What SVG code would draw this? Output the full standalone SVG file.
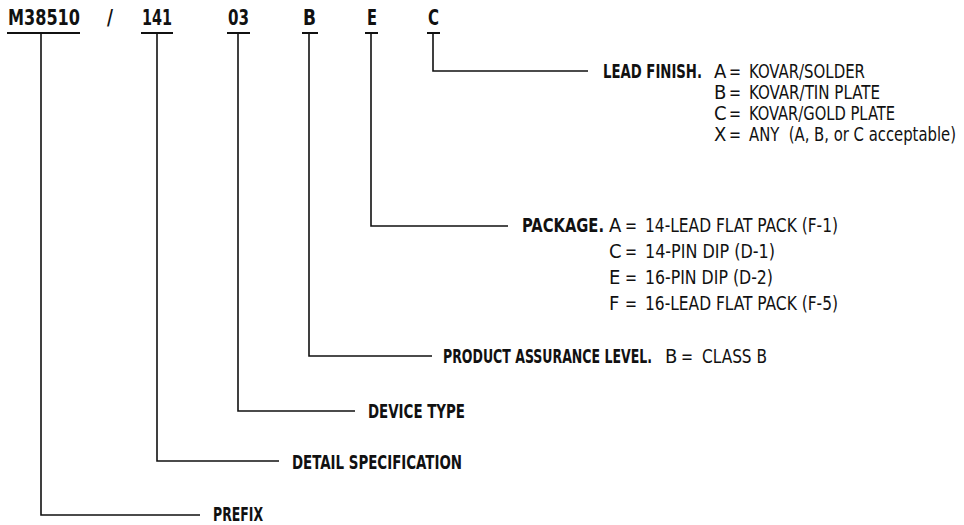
<svg xmlns="http://www.w3.org/2000/svg" width="964" height="525" viewBox="0 0 964 525">
<style>
.hd{font-family:"Liberation Sans Narrow","DejaVu Sans Condensed","Liberation Sans",sans-serif;font-weight:bold;font-size:22px;fill:#111}
.lb{font-family:"Liberation Sans Narrow","DejaVu Sans Condensed","Liberation Sans",sans-serif;font-weight:bold;font-size:20px;fill:#111}
.tx{font-family:"Liberation Sans Narrow","DejaVu Sans Condensed","Liberation Sans",sans-serif;font-size:20px;fill:#111}
.ln{fill:none;stroke:#111;stroke-width:1.6}
.ul{stroke:#111;stroke-width:2}
</style>
<rect width="964" height="525" fill="#fff"/>
<g id="header">
<text class="hd" x="8" y="25" textLength="72" lengthAdjust="spacingAndGlyphs">M38510</text>
<text class="hd" x="107" y="25" textLength="6" lengthAdjust="spacingAndGlyphs">/</text>
<text class="hd" x="142" y="25" textLength="30" lengthAdjust="spacingAndGlyphs">141</text>
<text class="hd" x="228" y="25" textLength="21" lengthAdjust="spacingAndGlyphs">03</text>
<text class="hd" x="303" y="25" textLength="13" lengthAdjust="spacingAndGlyphs">B</text>
<text class="hd" x="367" y="25" textLength="10" lengthAdjust="spacingAndGlyphs">E</text>
<text class="hd" x="428" y="25" textLength="11" lengthAdjust="spacingAndGlyphs">C</text>
<line class="ul" x1="7" y1="33" x2="80" y2="33"/>
<line class="ul" x1="141" y1="33" x2="173" y2="33"/>
<line class="ul" x1="227" y1="33" x2="250" y2="33"/>
<line class="ul" x1="302" y1="33" x2="318" y2="33"/>
<line class="ul" x1="365" y1="33" x2="378" y2="33"/>
<line class="ul" x1="427" y1="33" x2="440" y2="33"/>
</g>
<g id="connectors">
<polyline class="ln" points="433,33 433,71 588,71"/>
<polyline class="ln" points="371,33 371,226 508,226"/>
<polyline class="ln" points="309,33 309,356 432,356"/>
<polyline class="ln" points="238,33 238,411 355,411"/>
<polyline class="ln" points="157,33 157,461 279,461"/>
<polyline class="ln" points="41,33 41,515 200,515"/>
</g>
<g id="lead-finish">
<text class="lb" x="603" y="78" textLength="99" lengthAdjust="spacingAndGlyphs">LEAD FINISH.</text>
<text class="tx" y="78"><tspan x="714">A</tspan><tspan x="729" textLength="12" lengthAdjust="spacingAndGlyphs">=</tspan><tspan x="749" textLength="116" lengthAdjust="spacingAndGlyphs">KOVAR/SOLDER</tspan></text>
<text class="tx" y="99"><tspan x="714">B</tspan><tspan x="729" textLength="12" lengthAdjust="spacingAndGlyphs">=</tspan><tspan x="749" textLength="131" lengthAdjust="spacingAndGlyphs">KOVAR/TIN PLATE</tspan></text>
<text class="tx" y="120"><tspan x="714">C</tspan><tspan x="729" textLength="12" lengthAdjust="spacingAndGlyphs">=</tspan><tspan x="749" textLength="146" lengthAdjust="spacingAndGlyphs">KOVAR/GOLD PLATE</tspan></text>
<text class="tx" y="141" xml:space="preserve"><tspan x="714">X</tspan><tspan x="729" textLength="12" lengthAdjust="spacingAndGlyphs">=</tspan><tspan x="749" textLength="207" lengthAdjust="spacingAndGlyphs">ANY  (A, B, or C acceptable)</tspan></text>
</g>
<g id="package">
<text class="lb" x="522" y="232" textLength="82" lengthAdjust="spacingAndGlyphs">PACKAGE.</text>
<text class="tx" y="232"><tspan x="609">A</tspan><tspan x="625" textLength="12" lengthAdjust="spacingAndGlyphs">=</tspan><tspan x="645" textLength="193" lengthAdjust="spacingAndGlyphs">14-LEAD FLAT PACK (F-1)</tspan></text>
<text class="tx" y="258"><tspan x="609">C</tspan><tspan x="625" textLength="12" lengthAdjust="spacingAndGlyphs">=</tspan><tspan x="645" textLength="130" lengthAdjust="spacingAndGlyphs">14-PIN DIP (D-1)</tspan></text>
<text class="tx" y="284"><tspan x="609">E</tspan><tspan x="625" textLength="12" lengthAdjust="spacingAndGlyphs">=</tspan><tspan x="645" textLength="128" lengthAdjust="spacingAndGlyphs">16-PIN DIP (D-2)</tspan></text>
<text class="tx" y="310"><tspan x="609">F</tspan><tspan x="625" textLength="12" lengthAdjust="spacingAndGlyphs">=</tspan><tspan x="645" textLength="193" lengthAdjust="spacingAndGlyphs">16-LEAD FLAT PACK (F-5)</tspan></text>
</g>
<g id="product-assurance">
<text class="lb" x="443" y="363" textLength="209" lengthAdjust="spacingAndGlyphs">PRODUCT ASSURANCE LEVEL.</text>
<text class="tx" y="363"><tspan x="665">B</tspan><tspan x="681" textLength="12" lengthAdjust="spacingAndGlyphs">=</tspan><tspan x="702" textLength="65" lengthAdjust="spacingAndGlyphs">CLASS B</tspan></text>
</g>
<g id="device-type">
<text class="lb" x="368" y="418" textLength="97" lengthAdjust="spacingAndGlyphs">DEVICE TYPE</text>
</g>
<g id="detail-spec">
<text class="lb" x="292" y="469" textLength="170" lengthAdjust="spacingAndGlyphs">DETAIL SPECIFICATION</text>
</g>
<g id="prefix">
<text class="lb" x="213" y="521" textLength="50" lengthAdjust="spacingAndGlyphs">PREFIX</text>
</g>
</svg>
